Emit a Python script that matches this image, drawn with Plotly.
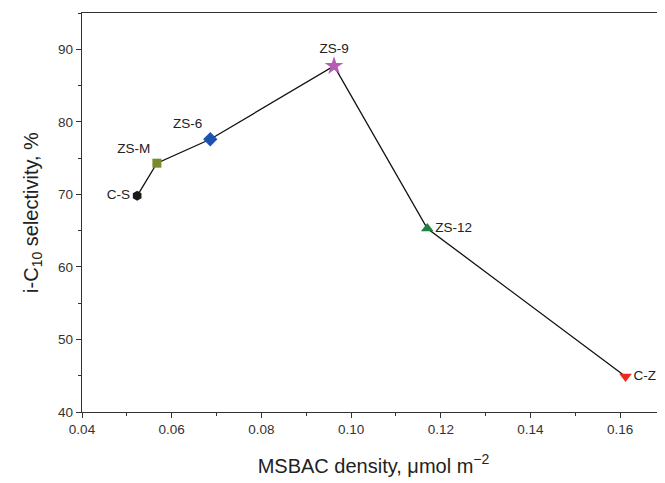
import plotly.graph_objects as go

names = ["C-S", "ZS-M", "ZS-6", "ZS-9", "ZS-12", "C-Z"]
density = [0.0523, 0.0567, 0.0686, 0.0962, 0.1170, 0.1612]
selectivity = [69.8, 74.3, 77.6, 87.7, 65.3, 44.9]
symbols = ["hexagon", "square", "diamond", "star", "triangle-up", "triangle-down"]
colors = ["#1a1a1a", "#7b8b2c", "#1f52b0", "#b35db4", "#1f8040", "#ee2b1e"]
sizes = [10, 9, 11, 14, 11, 11]
textpos = ["middle left", "top left", "top left", "top center", "middle right", "middle right"]

fig = go.Figure()
fig.add_trace(go.Scatter(x=density, y=selectivity, mode="lines",
                         line=dict(color="#111111", width=1.3), showlegend=False,
                         hoverinfo="skip"))
for n, x, y, s, c, sz, tp in zip(names, density, selectivity, symbols, colors, sizes, textpos):
    fig.add_trace(go.Scatter(x=[x], y=[y], mode="markers+text", text=[n],
                             textposition=tp,
                             textfont=dict(family="Liberation Sans, Arial", size=13.5, color="#222222"),
                             marker=dict(symbol=s, color=c, size=sz, line=dict(width=0)),
                             showlegend=False))

axis_common = dict(showline=True, linecolor="#333333", linewidth=1.3, ticks="outside",
                   ticklen=5, tickcolor="#333333", showgrid=False, zeroline=False,
                   tickfont=dict(family="Liberation Sans, Arial", size=13.5, color="#333333"))
fig.update_xaxes(range=[0.04, 0.17], dtick=0.02, tick0=0.04, tickformat=".2f",
                 mirror=True,
                 minor=dict(dtick=0.01, ticks="outside", ticklen=3, tickcolor="#333333"),
                 title=dict(text="MSBAC density, μmol m<sup>−2</sup>",
                            font=dict(family="Liberation Sans, Arial", size=20, color="#222222"),
                            standoff=22),
                 **axis_common)
fig.update_yaxes(range=[40, 95], dtick=10, tick0=40,
                 minor=dict(dtick=5, ticks="outside", ticklen=3, tickcolor="#333333"),
                 title=dict(text="i-C<sub>10</sub> selectivity, %",
                            font=dict(family="Liberation Sans, Arial", size=20, color="#222222"),
                            standoff=14),
                 **axis_common)
fig.update_layout(width=657, height=475, margin=dict(l=74, r=0, t=5, b=71),
                  plot_bgcolor="white", paper_bgcolor="white")
fig.write_html("out.html")
